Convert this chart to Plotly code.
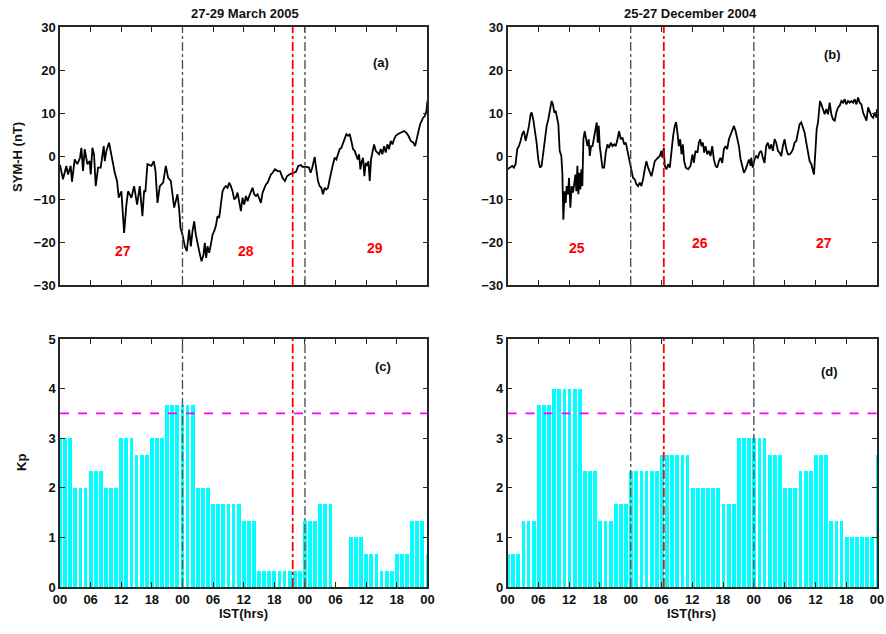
import numpy as np
import plotly.graph_objects as go

# ---------------- DATA ----------------
# SYM-H, 27-29 March 2005 (hours from 00 IST on 27 March)
symh_a_hours = [0.00, 0.59, 1.24, 1.57, 2.09, 2.35, 2.88, 3.40, 3.92, 4.19, 4.51, 4.84, 5.36, 5.82, 6.02, 6.35,
                6.67, 7.00, 7.46, 7.98, 8.24, 8.57, 8.77, 9.09, 9.61, 10.07, 10.73, 11.18, 11.51, 12.03, 12.56,
                13.01, 13.34, 14.00, 14.52, 15.11, 15.63, 16.15, 16.48, 16.74, 17.13, 17.92, 18.38, 18.71, 19.10,
                19.56, 20.21, 20.73, 21.19, 21.71, 22.37, 23.02, 23.35, 23.61,
                24.00, 24.46, 24.85, 25.31, 25.64, 25.96, 26.29, 26.62, 26.94, 27.27, 27.73, 28.12, 28.38, 28.64,
                28.91, 29.23, 29.56, 29.89, 30.21, 30.54, 30.87, 31.19, 31.52, 31.85, 32.18, 32.50, 32.83, 33.16,
                33.48, 33.81, 34.14, 34.46, 34.79, 35.12, 35.45, 35.77, 36.10, 36.43, 36.75, 37.08, 37.41, 37.73,
                38.06, 38.39, 38.72, 39.04, 39.37, 39.70, 40.02, 40.35, 40.68, 41.00, 41.33, 41.66, 42.12, 42.64,
                43.10, 43.62, 44.08, 44.47, 44.93, 45.58, 46.24, 46.69, 47.22,
                47.48, 48.13, 48.78, 49.11, 49.44, 49.90, 50.22, 50.55, 50.88, 51.20, 51.53, 51.86, 52.19, 52.51,
                52.84, 53.17, 53.49, 53.82, 54.15, 54.47, 54.80, 55.13, 55.46, 55.78, 56.11, 56.44, 56.76, 57.09,
                57.42, 57.74, 58.07, 58.33, 58.60, 58.86, 59.12, 59.38, 59.64, 59.90, 60.17, 60.43, 60.69, 60.95,
                61.21, 61.54, 61.87, 62.19, 62.52, 62.85, 63.17, 63.50, 63.83, 64.15, 64.48, 64.81, 65.14, 65.46,
                65.79, 66.25, 66.77, 67.42, 67.88, 68.27, 68.73, 69.26, 69.58, 69.91, 70.24, 70.56, 70.89, 71.15,
                71.48, 71.81, 72.00]
symh_a_values = [-2.1, -5.4, -2.3, -4.3, -2.3, -6.0, -0.8, -1.9, -0.4, 1.9, -3.5, 1.6, -1.9, -1.2, -4.3, 1.9,
                 0.4, -7.0, -2.7, -2.7, -0.4, 2.3, -1.2, 1.2, 3.1, 0.0, -3.9, -5.8, -9.7, -8.2, -17.9,
                 -11.3, -8.2, -9.7, -7.0, -11.3, -7.0, -14.0, -8.2, -8.2, -1.9, -2.3, -1.2, -3.5, -10.9,
                 -7.0, -6.2, -2.3, -5.1, -5.8, -12.0, -8.9, -12.4, -16.7,
                 -18.3, -21.0, -22.1, -17.1, -21.0, -17.5, -15.2, -18.3, -20.6, -22.1, -24.5, -22.9, -20.2, -23.7,
                 -21.0, -22.5, -20.6, -18.3, -17.5, -16.3, -14.0, -14.4, -11.3, -8.2, -7.4, -7.0, -7.4, -6.2,
                 -7.0, -8.2, -10.1, -9.7, -8.5, -10.9, -12.8, -9.7, -11.3, -9.3, -10.5, -9.3, -8.5, -7.4,
                 -8.9, -9.3, -8.9, -9.7, -10.9, -8.5, -7.4, -6.6, -6.2, -5.1, -4.3, -3.9, -3.1, -3.5,
                 -3.5, -5.1, -5.8, -4.7, -4.3, -4.0, -3.7, -2.3, -2.1,
                 -2.5, -2.5, -2.7, -3.9, -2.7, -0.2, -3.1, -5.8, -7.0, -7.4, -8.9, -7.4, -7.8, -7.4,
                 -5.4, -3.1, -1.9, -0.4, -0.8, 0.4, 1.6, 1.9, 3.1, 4.3, 5.1, 4.7, 5.1, 3.5,
                 1.6, 1.2, 0.0, -0.8, 0.4, -3.1, -1.2, -0.4, -4.7, -1.6, -2.3, -1.2, -5.8, -0.8,
                 0.8, 2.7, 1.2, 0.8, 0.4, 1.6, 0.4, 2.3, 0.8, 2.7, 1.6, 3.5, 2.7, 3.9,
                 4.7, 5.1, 5.4, 5.8, 5.4, 4.7, 3.5, 3.1, 2.3, 3.9, 6.2, 7.4, 8.2, 8.9,
                 9.3, 10.5, 12.8]

# SYM-H, 25-27 December 2004 (hours from 00 IST on 25 December)
symh_b_hours = [0.00, 0.59, 0.91, 1.24, 1.56, 1.89, 2.21, 2.54, 2.86, 3.19, 3.52, 3.84, 4.17, 4.49, 4.69, 5.01,
                5.34, 5.66, 5.99, 6.32, 6.64, 6.97, 7.29, 7.62, 7.94, 8.27, 8.59, 8.85, 9.11, 9.38, 9.64, 9.90,
                10.16, 10.48, 10.68, 10.87, 11.13, 11.33, 11.52, 11.78, 11.98, 12.24, 12.50, 12.76, 13.02, 13.22,
                13.41, 13.61, 13.80, 14.00, 14.19, 14.39, 14.58, 14.78, 15.04, 15.30, 15.56, 15.82, 16.02, 16.28,
                16.54, 16.86, 17.12, 17.38, 17.58, 17.77, 17.97, 18.23, 18.49, 18.82, 19.14, 19.47, 19.79, 20.12,
                20.44, 20.77, 21.09, 21.42, 21.74, 22.07, 22.40, 22.72, 23.05, 23.37,
                23.80, 24.13, 24.46, 24.78, 25.11, 25.43, 25.76, 26.08, 26.41, 26.73, 27.06, 27.39, 27.71, 28.04,
                28.36, 28.69, 29.01, 29.34, 29.66, 29.99, 30.18, 30.45, 30.64, 30.97, 31.29, 31.62, 31.94, 32.27,
                32.59, 32.85, 33.11, 33.38, 33.64, 33.90, 34.16, 34.42, 34.74, 35.20, 35.65, 36.04, 36.30, 36.63,
                37.02, 37.28, 37.54, 37.80, 38.06, 38.32, 38.58, 38.91, 39.23, 39.56, 39.89, 40.21, 40.54, 40.86,
                41.19, 41.51, 41.84, 42.16, 42.49, 42.81, 43.14, 43.47, 43.79, 44.12, 44.44, 44.77, 45.09, 45.42,
                45.74, 46.07, 46.40, 46.72, 47.05, 47.37,
                47.48, 47.80, 48.13, 48.46, 48.78, 49.11, 49.43, 49.76, 50.08, 50.41, 50.73, 51.06, 51.39, 51.71,
                52.04, 52.36, 52.69, 53.01, 53.34, 53.66, 53.99, 54.32, 54.64, 54.97, 55.29, 55.62, 55.94, 56.27,
                56.59, 56.92, 57.24, 57.57, 57.90, 58.22, 58.55, 58.87, 59.20, 59.52, 59.72, 59.98, 60.24, 60.50,
                60.70, 60.89, 61.15, 61.48, 61.80, 62.13, 62.45, 62.78, 63.10, 63.43, 63.76, 64.08, 64.41, 64.73,
                65.06, 65.38, 65.71, 66.03, 66.36, 66.69, 67.01, 67.34, 67.66, 67.99, 68.31, 68.64, 68.96, 69.29,
                69.61, 69.94, 70.27, 70.59, 70.92, 71.24, 71.57, 71.89, 72.00]
symh_b_values = [-3.1, -2.7, -2.3, -2.7, -1.9, 1.6, 2.3, 3.5, 5.1, 5.8, 3.5, 5.1, 7.0, 9.7, 10.1, 8.5,
                 6.2, 3.1, -0.8, -2.7, -2.3, 0.8, 2.7, 7.0, 8.5, 10.5, 12.8, 12.0, 10.1, 10.5, 8.5, 7.4,
                 1.2, 0.0, -3.9, -14.8, -8.2, -10.9, -7.0, -8.9, -5.1, -12.0, -7.0, -8.5, -6.2, -4.3,
                 -8.2, -2.3, -8.9, -3.9, -7.8, -3.1, -7.0, 3.9, 5.8, 4.3, 2.3, 3.9, 0.0, 2.3,
                 2.3, 4.3, 5.8, 7.8, 3.1, 7.0, 2.3, -0.8, -2.7, -2.7, 0.8, 2.7, 1.9, 3.1,
                 2.3, 2.7, 2.3, 3.9, 5.8, 3.9, 4.3, 2.7, 3.1, 1.2,
                 -1.2, -3.1, -5.1, -5.4, -6.6, -7.0, -6.2, -7.0, -5.4, -3.1, -1.2, -2.7, -3.5, -4.7,
                 -3.1, -1.2, -0.8, -0.4, 0.0, 1.2, -0.4, 1.9, -2.3, -3.1, -1.9, -2.7, 1.6, 4.7,
                 7.0, 7.9, 5.4, 2.3, 3.9, 0.4, 2.7, -1.2, -2.7, -3.1, -2.3, 0.4, -1.6, 1.2,
                 0.8, 3.1, 3.9, 2.3, 3.1, 0.8, 2.3, 0.4, 1.2, 0.0, 2.3, -0.8, -2.3, -2.7,
                 -1.2, -0.4, -1.6, 1.6, 2.3, 1.6, 3.9, 5.1, 6.2, 7.0, 5.8, 4.3, 2.3, -0.8,
                 -2.3, -3.9, -3.1, -1.9, -0.8, -2.3,
                 -0.4, -2.7, -0.8, 0.0, -0.4, 0.8, 1.2, -0.4, -1.6, 2.3, 3.1, 1.6, 2.7, 1.2,
                 3.9, 3.1, 1.2, 0.8, 0.0, 2.3, 3.9, 1.6, 0.4, 0.4, 0.8, 1.6, 3.1, 3.5,
                 5.4, 7.4, 7.8, 6.6, 5.4, 3.1, 0.8, -1.2, -1.9, -3.5, -4.3, 0.8, 6.2, 7.8,
                 10.1, 12.8, 12.0, 10.5, 9.7, 10.9, 9.7, 12.4, 9.7, 8.5, 8.2, 10.1, 11.3, 11.7,
                 12.8, 12.4, 13.2, 12.0, 12.8, 12.4, 12.8, 12.4, 13.2, 12.0, 13.6, 12.4, 12.0, 10.1,
                 9.3, 8.2, 11.3, 10.1, 9.3, 8.9, 10.1, 8.9, 10.9]

# 3-hourly Kp (24 intervals) + first value of the following day
kp_c = [3.0, 2.0, 2.33, 2.0, 3.0, 2.67, 3.0, 3.67, 3.67, 2.0, 1.67, 1.67,
        1.33, 0.33, 0.33, 0.33, 1.33, 1.67, 0.0, 1.0, 0.67, 0.33, 0.67, 1.33]
kp_c_next = 0.67
kp_d = [0.67, 1.33, 3.67, 4.0, 4.0, 2.33, 1.33, 1.67, 2.33, 2.33, 2.67, 2.67,
        2.0, 2.0, 1.67, 3.0, 3.0, 2.67, 2.0, 2.33, 2.67, 1.33, 1.0, 1.0]
kp_d_next = 2.67

kp_threshold = 3.5
day_lines = [24, 48]
quake_a = 45.6   # 28 March 2005, ~21:39 IST
quake_b = 30.45  # 26 December 2004, ~06:28 IST

tick_vals = list(range(0, 73, 6))
tick_text = ["00", "06", "12", "18", "00", "06", "12", "18", "00", "06", "12", "18", "00"]

titles = ["27-29 March 2005", "25-27 December 2004"]
days_a = ["27", "28", "29"]
days_b = ["25", "26", "27"]

# ---------------- FIGURE ----------------
W, H = 886, 634
ML, MR, MT, MB = 60, 2, 27, 47
PLOT_RIGHT = 876          # target right edge of the plotting area (px)
PW, PH = PLOT_RIGHT - ML, H - MT - MB


def px_x(p):
    return (p - ML) / PW


def px_y(p):
    return (H - MB - p) / PH


xdom_l = [0, px_x(427)]
xdom_r = [px_x(507), 1]
ydom_t = [px_y(285), 1]
ydom_b = [0, px_y(339)]

hourly = list(range(0, 73))
kp_c_h = list(np.repeat(kp_c, 3)) + [kp_c_next]
kp_d_h = list(np.repeat(kp_d, 3)) + [kp_d_next]

fig = go.Figure()
fig.add_trace(go.Scatter(x=symh_a_hours, y=symh_a_values, mode="lines",
                         line=dict(color="black", width=1.8), xaxis="x", yaxis="y"))
fig.add_trace(go.Scatter(x=symh_b_hours, y=symh_b_values, mode="lines",
                         line=dict(color="black", width=1.8), xaxis="x2", yaxis="y2"))
fig.add_trace(go.Bar(x=hourly, y=kp_c_h, width=0.74, marker=dict(color="#00FFFF", line=dict(width=0)),
                     xaxis="x3", yaxis="y3"))
fig.add_trace(go.Bar(x=hourly, y=kp_d_h, width=0.74, marker=dict(color="#00FFFF", line=dict(width=0)),
                     xaxis="x4", yaxis="y4"))

axcol = "#262626"
tickfont = dict(family="Liberation Sans", size=13, color="#111111", weight="bold")


def xax(dom, anchor, labels):
    return dict(domain=dom, anchor=anchor, range=[0, 72], tickvals=tick_vals,
                ticktext=tick_text if labels else [""] * len(tick_vals),
                showticklabels=labels, ticks="inside", ticklen=5, tickwidth=1.3, tickcolor=axcol,
                showline=True, linecolor=axcol, linewidth=1.5, mirror="ticks",
                showgrid=False, zeroline=False, tickfont=tickfont)


def yax(dom, anchor, rng, dt):
    return dict(domain=dom, anchor=anchor, range=rng, dtick=dt, tick0=rng[0],
                ticks="inside", ticklen=5, tickwidth=1.3, tickcolor=axcol,
                showline=True, linecolor=axcol, linewidth=1.5, mirror="ticks",
                showgrid=False, zeroline=False, tickfont=tickfont)


fig.update_layout(
    width=W, height=H, margin=dict(l=ML, r=MR, t=MT, b=MB),
    paper_bgcolor="white", plot_bgcolor="white", showlegend=False, bargap=0,
    xaxis=xax(xdom_l, "y", False), yaxis=yax(ydom_t, "x", [-30, 30], 10),
    xaxis2=xax(xdom_r, "y2", False), yaxis2=yax(ydom_t, "x2", [-30, 30], 10),
    xaxis3=xax(xdom_l, "y3", True), yaxis3=yax(ydom_b, "x3", [0, 5], 1),
    xaxis4=xax(xdom_r, "y4", True), yaxis4=yax(ydom_b, "x4", [0, 5], 1),
)

shapes = []
for xa, ya, q in [("x", "y", quake_a), ("x2", "y2", quake_b), ("x3", "y3", quake_a), ("x4", "y4", quake_b)]:
    for d in day_lines:
        shapes.append(dict(type="line", xref=xa, yref=ya + " domain", x0=d, x1=d, y0=0, y1=1,
                           line=dict(color="#555555", width=1.4, dash="dashdot")))
    shapes.append(dict(type="line", xref=xa, yref=ya + " domain", x0=q, x1=q, y0=0, y1=1,
                       line=dict(color="#FF0000", width=1.8, dash="dashdot")))
for xa, ya in [("x3", "y3"), ("x4", "y4")]:
    shapes.append(dict(type="line", xref=xa + " domain", yref=ya, x0=0, x1=1, y0=kp_threshold, y1=kp_threshold,
                       line=dict(color="#FF00FF", width=1.8, dash="dash")))
fig.update_layout(shapes=shapes)

ann = []


def a_paper(text, xp, yp, font, angle=0):
    return dict(text=text, x=px_x(xp), y=px_y(yp), xref="paper", yref="paper", showarrow=False,
                xanchor="center", yanchor="middle", textangle=angle, font=font)


bold13 = dict(family="Liberation Sans", size=13, color="#111111", weight="bold")
ann.append(a_paper(titles[0], 245, 13, bold13))
ann.append(a_paper(titles[1], 690, 13, bold13))
ann.append(a_paper("SYM-H (nT)", 18, 157, bold13, -90))
ann.append(a_paper("Kp", 21, 462, bold13, -90))
ann.append(a_paper("IST(hrs)", 243, 613, bold13))
ann.append(a_paper("IST(hrs)", 691, 613, bold13))

red = dict(family="Liberation Sans", size=14, color="#FF0000", weight="bold")
for t, (x, y) in zip(days_a, [(12.4, -22.2), (36.4, -22.2), (61.7, -21.4)]):
    ann.append(dict(text=t, x=x, y=y, xref="x", yref="y", showarrow=False, font=red,
                    xanchor="center", yanchor="middle"))
for t, (x, y) in zip(days_b, [(13.5, -21.4), (37.6, -20.2), (61.6, -20.2)]):
    ann.append(dict(text=t, x=x, y=y, xref="x2", yref="y2", showarrow=False, font=red,
                    xanchor="center", yanchor="middle"))

lab = dict(family="Liberation Sans", size=13, color="#111111", weight="bold")
for t, x, y, xr, yr in [("(a)", 62.8, 21.8, "x", "y"), ("(b)", 63.4, 23.5, "x2", "y2"),
                        ("(c)", 63.3, 4.44, "x3", "y3"), ("(d)", 62.7, 4.35, "x4", "y4")]:
    ann.append(dict(text=t, x=x, y=y, xref=xr, yref=yr, showarrow=False, font=lab,
                    xanchor="center", yanchor="middle"))
fig.update_layout(annotations=ann)

fig.write_html(
    "out.html",
    config={"displayModeBar": False, "responsive": False},
    post_script=("document.body.style.margin='0';document.body.style.padding='0';"
                 "document.documentElement.style.overflow='hidden';"),
)
